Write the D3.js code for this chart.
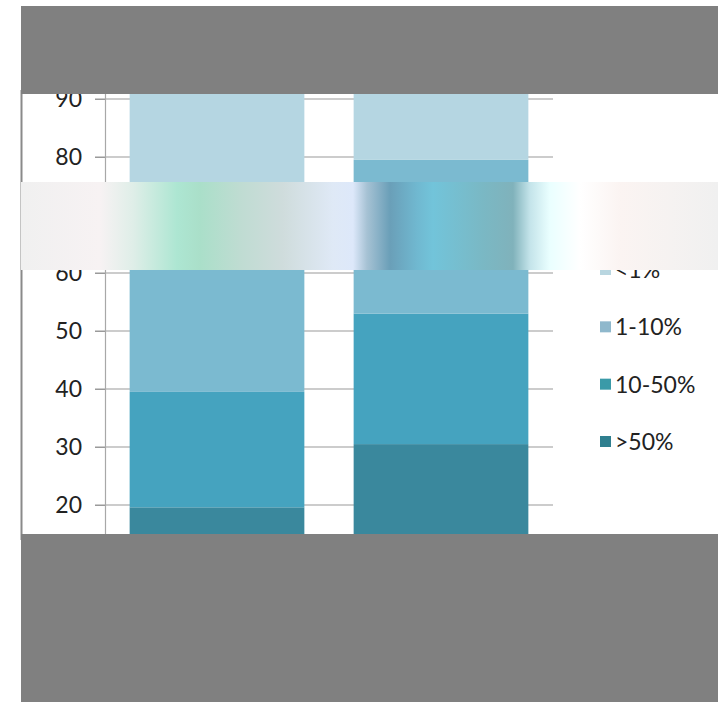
<!DOCTYPE html>
<html>
<head>
<meta charset="utf-8">
<script src="https://cdn.jsdelivr.net/npm/d3@7"></script>
<style>
  html, body { margin: 0; padding: 0; background: #fff; }
  svg { display: block; }
</style>
</head>
<body>
<svg id="chart" width="718" height="702"></svg>
<script>
// ---- data ----
const categories = ["A", "B"];
const seriesNames = ["<1%", "1-10%", "10-50%", ">50%"];
const seriesGt50 = [19.6, 30.5];
const series10to50 = [19.9, 22.5];
const series1to10 = [23.0, 26.5];
const seriesLt1 = [37.5, 20.5];
const yTicks = [0, 10, 20, 30, 40, 50, 60, 70, 80, 90, 100];
const colors = { "<1%": "#b5d6e2", "1-10%": "#7bbad0", "10-50%": "#45a3bf", ">50%": "#3a889d" };
const legendSwatch = { "<1%": "#b9d6e0", "1-10%": "#8fb8cc", "10-50%": "#3a9aa8", ">50%": "#2f7f8f" };

// stacked from bottom: >50%, 10-50%, 1-10%, <1%
const stackOrder = [">50%", "10-50%", "1-10%", "<1%"];
const valuesBySeries = { ">50%": seriesGt50, "10-50%": series10to50, "1-10%": series1to10, "<1%": seriesLt1 };
const table = categories.map((c, i) => {
  const row = { cat: c };
  stackOrder.forEach(s => row[s] = valuesBySeries[s][i]);
  return row;
});

const svg = d3.select("#chart");
const x = d3.scaleBand().domain(categories).range([105, 553]).paddingInner(0.22).paddingOuter(0.11);
const y = d3.scaleLinear().domain([0, 100]).range([621, 41]);

// gridlines
svg.append("g").selectAll("line").data(yTicks).join("line")
  .attr("x1", 95).attr("x2", 553)
  .attr("y1", d => y(d)).attr("y2", d => y(d))
  .attr("stroke", "#9a9a9a").attr("stroke-width", 1.2);

// y axis
const yAxis = svg.append("g").attr("transform", "translate(105,0)")
  .call(d3.axisLeft(y).tickValues(yTicks).tickSize(10).tickPadding(13));
yAxis.select(".domain").attr("stroke", "#a8a8a8").attr("stroke-width", 1.2);
yAxis.selectAll(".tick line").attr("stroke", "#9a9a9a");
yAxis.selectAll("text").attr("font-family", "Lato, sans-serif").attr("font-size", 23).attr("fill", "#222");

// bars
const stacked = d3.stack().keys(stackOrder)(table);
svg.append("g").selectAll("g").data(stacked).join("g")
  .attr("fill", d => colors[d.key])
  .selectAll("rect").data(d => d).join("rect")
  .attr("x", d => x(d.data.cat))
  .attr("width", x.bandwidth())
  .attr("y", d => y(d[1]))
  .attr("height", d => y(d[0]) - y(d[1]));

// legend
const legendY = d3.scalePoint().domain(seriesNames).range([270, 442]);
const lg = svg.append("g").selectAll("g").data(seriesNames).join("g")
  .attr("transform", d => `translate(600,${legendY(d)})`);
lg.append("rect").attr("x", 0).attr("y", -6).attr("width", 11).attr("height", 11)
  .attr("fill", d => legendSwatch[d]);
lg.append("text").attr("x", 15).attr("dy", "0.35em")
  .attr("font-family", "Lato, sans-serif").attr("font-size", 23).attr("fill", "#222")
  .text(d => d);

// photo frame edge
svg.append("line").attr("x1", 21.5).attr("x2", 21.5).attr("y1", 90).attr("y2", 540)
  .attr("stroke", "#8a8a8a").attr("stroke-width", 2);

// redaction overlays seen in the reference
const defs = svg.append("defs");
const grad = defs.append("linearGradient").attr("id", "band").attr("x1", "0").attr("x2", "1").attr("y1", "0").attr("y2", "0");
const bandStops = [
  [21, "#f0f0f0"], [100, "#f7f2f3"], [133, "#dfeee8"], [177, "#ade6d2"], [200, "#aadfc9"],
  [240, "#bfdcd2"], [283, "#cfdcdc"], [333, "#dfe9f6"], [353, "#dde8fa"], [367, "#a6c2d4"],
  [390, "#6a9fb8"], [417, "#70b8d0"], [433, "#72c4da"], [483, "#7ab8c4"], [513, "#80b2bb"],
  [530, "#c4e4ea"], [550, "#eaffff"], [580, "#ffffff"], [620, "#fbf4f2"], [718, "#f0f0f0"]
];
grad.selectAll("stop").data(bandStops).join("stop")
  .attr("offset", d => ((d[0] - 21) / (718 - 21)))
  .attr("stop-color", d => d[1]);
svg.append("rect").attr("x", 21).attr("y", 182).attr("width", 697).attr("height", 88).attr("fill", "url(#band)");
svg.append("rect").attr("x", 21).attr("y", 6).attr("width", 697).attr("height", 88).attr("fill", "#808080");
svg.append("rect").attr("x", 21).attr("y", 534).attr("width", 697).attr("height", 168).attr("fill", "#808080");
</script>
</body>
</html>
